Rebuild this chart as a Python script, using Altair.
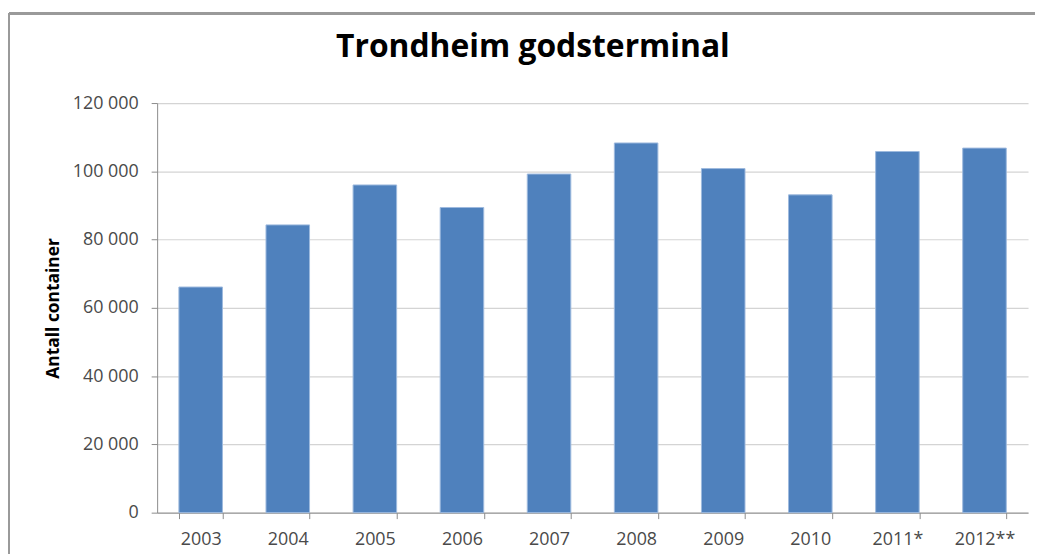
import altair as alt
import pandas as pd

years = ["2003", "2004", "2005", "2006", "2007", "2008", "2009", "2010", "2011*", "2012**"]
containers = [66100, 84300, 96000, 89400, 99200, 108300, 100800, 93100, 105800, 106800]
y_ticks = [0, 20000, 40000, 60000, 80000, 100000, 120000]

df = pd.DataFrame({"year": years, "containers": containers})

FONT = "Open Sans"

bars = alt.Chart(df).mark_bar(
    color="#4F81BD", stroke="#9DB9DE", strokeWidth=1
).encode(
    x=alt.X(
        "year:N",
        sort=None,
        title=None,
        scale=alt.Scale(paddingInner=0.5, paddingOuter=0.25),
        axis=alt.Axis(
            labelAngle=0,
            labelFont=FONT,
            labelFontSize=18,
            labelColor="#4a4a4a",
            labelPadding=12,
            tickBand="extent",
            tickSize=6,
            tickColor="#8c8c8c",
            domainColor="#8c8c8c",
            grid=False,
        ),
    ),
    y=alt.Y(
        "containers:Q",
        scale=alt.Scale(domain=[0, 120000], nice=False),
        axis=alt.Axis(
            values=y_ticks,
            title="Antall container",
            titleFont=FONT,
            titleFontSize=17.5,
            titleFontWeight="bold",
            titleColor="#000000",
            titleX=-104,
            titleY=206,
            titleAlign="center",
            titleBaseline="middle",
            labelFont=FONT,
            labelFontSize=18,
            labelColor="#4a4a4a",
            labelPadding=13,
            labelExpr="replace(format(datum.value, ','), ',', ' ')",
            tickSize=6,
            tickColor="#8c8c8c",
            domainColor="#8c8c8c",
            gridColor="#d4d4d4",
            gridWidth=1.2,
        ),
    ),
)

border_top = alt.Chart(df).mark_rule(color="#9a9a9a", strokeWidth=2).encode(
    x=alt.value(-149), x2=alt.value(890), y=alt.value(-90)
)
border_left = alt.Chart(df).mark_rule(color="#9a9a9a", strokeWidth=2).encode(
    x=alt.value(-149), y=alt.value(-90), y2=alt.value(460)
)

chart = alt.layer(bars, border_top, border_left).properties(
    width=876,
    height=412,
    autosize=alt.AutoSizeParams(type="none"),
    padding={"left": 150, "top": 94, "right": 7, "bottom": 40},
    title=alt.TitleParams(
        "Trondheim godsterminal",
        font=FONT,
        fontSize=32,
        fontWeight="bold",
        color="#000000",
        anchor="middle",
        baseline="alphabetic",
        offset=0,
        dy=77,
        dx=-60,
    ),
).configure_view(stroke=None)

chart.save("out.html", embed_options={"renderer": "svg", "actions": False})
